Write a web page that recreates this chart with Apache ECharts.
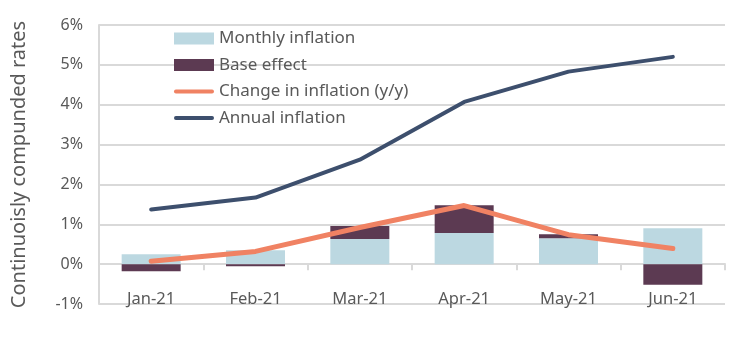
<!DOCTYPE html>
<html><head><meta charset="utf-8">
<script src="https://cdn.jsdelivr.net/npm/echarts@6/dist/echarts.min.js"></script>
<style>html,body{margin:0;padding:0;background:#fff}#c{width:750px;height:350px}</style>
</head><body><div id="c"></div>
<script>
var categories = ['Jan-21','Feb-21','Mar-21','Apr-21','May-21','Jun-21'];
var monthlyInflation = [0.25, 0.35, 0.63, 0.78, 0.65, 0.90];
var baseEffect = [-0.18, -0.05, 0.33, 0.70, 0.10, -0.52];
var changeInInflation = [0.07, 0.32, 0.92, 1.47, 0.74, 0.39];
var annualInflation = [1.37, 1.67, 2.62, 4.07, 4.83, 5.20];
var yTicks = [-1, 0, 1, 2, 3, 4, 5, 6];

var font = 'Noto Sans';
var txt = '#595959';
var lineIcon = 'path://M2,0 L40,0 A2,2 0 0 1 40,4 L2,4 A2,2 0 0 1 2,0 Z';
var chart = echarts.init(document.getElementById('c'));
chart.setOption({
  animation: false,
  textStyle: {fontFamily: font},
  grid: {left: 99, right: 25, top: 25, bottom: 46},
  legend: {
    orient: 'vertical', left: 169, top: 25, itemWidth: 40, itemHeight: 12, itemGap: 9.5,
    textStyle: {fontFamily: font, fontSize: 17, color: txt, lineHeight: 17},
    data: [
      {name: 'Monthly inflation', icon: 'rect'},
      {name: 'Base effect', icon: 'rect'},
      {name: 'Change in inflation (y/y)', icon: lineIcon},
      {name: 'Annual inflation', icon: lineIcon}
    ]
  },
  xAxis: {
    type: 'category', data: categories,
    axisLine: {onZero: true, lineStyle: {color: '#d9d9d9', width: 2}},
    axisTick: {show: true, length: 6, lineStyle: {color: '#d9d9d9', width: 2}},
    axisLabel: {margin: -13, fontSize: 16.5, color: txt, fontFamily: font}
  },
  yAxis: {
    type: 'value', min: yTicks[0], max: yTicks[yTicks.length-1], interval: 1,
    name: 'Continuoisly compunded rates', nameLocation: 'middle', nameGap: 70,
    nameTextStyle: {fontSize: 20, color: txt, fontFamily: font},
    axisLine: {show: true, lineStyle: {color: '#d9d9d9', width: 2}},
    axisTick: {show: false},
    splitLine: {lineStyle: {color: '#d9d9d9', width: 2}},
    axisLabel: {formatter: function(v){return v + '%';}, fontSize: 16, color: txt, fontFamily: font, margin: 16}
  },
  series: [
    {name: 'Monthly inflation', type: 'bar', stack: 's', data: monthlyInflation, barWidth: 59,
     itemStyle: {color: '#bcd8e1'}},
    {name: 'Base effect', type: 'bar', stack: 's', data: baseEffect, barWidth: 59,
     itemStyle: {color: '#5c3a52'}},
    {name: 'Change in inflation (y/y)', type: 'line', data: changeInInflation, symbol: 'none',
     lineStyle: {color: '#f08263', width: 5, cap: 'round'}, itemStyle: {color: '#f08263'}},
    {name: 'Annual inflation', type: 'line', data: annualInflation, symbol: 'none',
     lineStyle: {color: '#3d4f6d', width: 4, cap: 'round'}, itemStyle: {color: '#3d4f6d'}}
  ]
});
</script></body></html>
